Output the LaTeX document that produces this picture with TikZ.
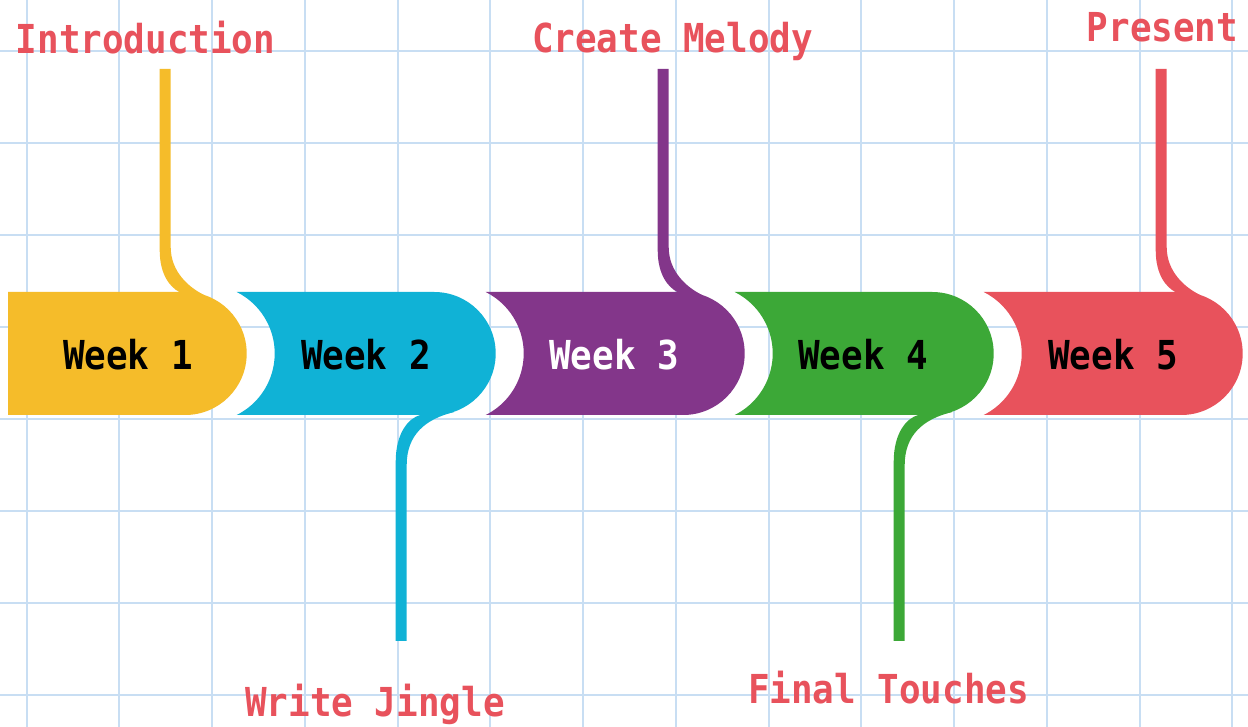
\documentclass[tikz,border=0pt]{standalone}
\usepackage{fontspec}
\usepackage{tikz}
\usepackage{xcolor}
\usetikzlibrary{positioning}
\newfontfamily\weekfont{DejaVu Sans Mono}
\definecolor{wkyellow}{RGB}{245, 188, 42}
\definecolor{wkcyan}{RGB}{16, 178, 214}
\definecolor{wkpurple}{RGB}{131, 54, 138}
\definecolor{wkgreen}{RGB}{60, 168, 55}
\definecolor{wkred}{RGB}{232, 82, 92}
\definecolor{gridblue}{RGB}{200, 222, 243}
\tikzset{
    gridline/.style={draw=gridblue, line width=1.1pt},
    weeklabel/.style={font=\weekfont\bfseries\fontsize{22.7}{26}\selectfont, anchor=base, inner sep=0pt, xscale=0.9, transform shape},
    tasklabel/.style={weeklabel, text=wkred}
}

\begin{document}
\begin{tikzpicture}[x=0.02cm, y=0.02cm]
                \useasboundingbox (0,0) rectangle (1248,727);
                \fill[white] (0,0) rectangle (1248,727);
                % squared paper
                \foreach \i in {0,...,7}
                    \draw[gridline] (0,{676.3-92*\i}) -- (1248,{676.3-92*\i});
                \foreach \j in {0,...,13}
                    \draw[gridline] ({26.7+92.75*\j},0) -- ({26.7+92.75*\j},727);
                % first band
                \fill[wkyellow] (8,435) -- (185.2,435) arc[start angle=90, end angle=-90, radius=61.5] -- (8,312) -- cycle;
                % other bands, hollowed on the left
                \foreach \k/\col in {2/wkcyan, 3/wkpurple, 4/wkgreen, 5/wkred}{
                    \pgfmathsetmacro\tip{246.7+249*(\k-1)}
                    \fill[\col] ({\tip-259},435) -- ({\tip-61.5},435) arc[start angle=90, end angle=-90, radius=61.5]
                        -- ({\tip-259},312) arc[start angle=-63.4, end angle=63.4, radius=68.8] -- cycle;
                }
                % stems going up
                \foreach \k/\col in {1/wkyellow, 3/wkpurple, 5/wkred}{
                    \pgfmathsetmacro\cx{246.7+249*(\k-1)-81.5}
                    \fill[\col] ({\cx-5.5},658) -- ({\cx-5.5},477) .. controls ({\cx-5.5},452) and ({\cx+5},440) .. ({\cx+14},435)
                        -- ({\cx+20},400) -- ({\cx+40},431.5) .. controls ({\cx+24},439) and ({\cx+5.5},455) .. ({\cx+5.5},480)
                        -- ({\cx+5.5},658) -- cycle;
                }
                % stems going down
                \foreach \k/\col in {2/wkcyan, 4/wkgreen}{
                    \pgfmathsetmacro\cx{246.7+249*(\k-1)-94.5}
                    \fill[\col] ({\cx-5.5},86) -- ({\cx-5.5},265) .. controls ({\cx-5.5},295) and ({\cx+8},309) .. ({\cx+19},312)
                        -- ({\cx+30},340) -- ({\cx+53},315) .. controls ({\cx+24},308) and ({\cx+5.5},292) .. ({\cx+5.5},262)
                        -- ({\cx+5.5},86) -- cycle;
                }
                % week names
                \node[weeklabel] (w1) at (128,357) {Week 1};
                \node[weeklabel] (w2) at (366,357) {Week 2};
                \node[weeklabel, text=white] (w3) at (614,357) {Week 3};
                \node[weeklabel] (w4) at (863,357) {Week 4};
                \node[weeklabel] (w5) at (1113,357) {Week 5};
                % tasks
                \node[tasklabel] (intro) at (145.5,673) {Introduction};
                \node[tasklabel] (jingle) at (375,10.3) {Write Jingle};
                \node[tasklabel] (melody) at (672.5,674) {Create Melody};
                \node[tasklabel] (touches) at (888.5,23.7) {Final Touches};
                \node[tasklabel] (present) at (1162.5,685.5) {Present};
            \end{tikzpicture}
\end{document}
